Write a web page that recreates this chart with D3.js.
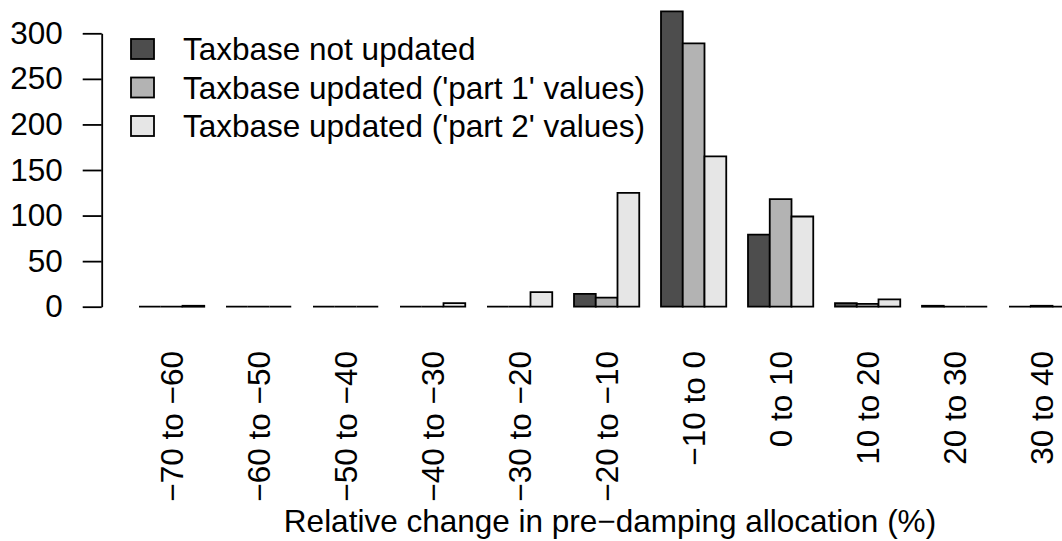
<!DOCTYPE html>
<html>
<head>
<meta charset="utf-8">
<script src="https://cdn.jsdelivr.net/npm/d3@7"></script>
<style>
  body { margin: 0; background: #fff; }
  svg { display: block; font-family: "Liberation Sans", Arial, sans-serif; }
</style>
</head>
<body>
<svg id="chart" width="1062" height="541"></svg>
<script>
// bins of relative change
const categories = ['\u221270 to \u221260', '\u221260 to \u221250', '\u221250 to \u221240', '\u221240 to \u221230',
  '\u221230 to \u221220', '\u221220 to \u221210', '\u221210 to 0', '0 to 10', '10 to 20', '20 to 30', '30 to 40'];
const seriesNames = ['Taxbase not updated', "Taxbase updated ('part 1' values)", "Taxbase updated ('part 2' values)"];
const notUpdated = [0, 0, 0, 0, 0, 14, 324, 79, 4, 1, 0];
const part1 = [0, 0, 0, 0, 0, 10, 289, 118, 3, 0, 1];
const part2 = [1, 0, 0, 4, 16, 125, 165, 99, 8, 0, 0];
const yTicks = [0, 50, 100, 150, 200, 250, 300];
const colors = ['#4d4d4d', '#b3b3b3', '#e6e6e6'];

const series = [notUpdated, part1, part2];
const rows = categories.map((c, i) => ({cat: c, vals: series.map((s, j) => ({key: seriesNames[j], v: s[i], j: j}))}));

const svg = d3.select('#chart');
const fs = 31.5;

const y = d3.scaleLinear().domain([0, 300]).range([306.7, 33.3]);
const x0 = d3.scaleBand().domain(categories).range([117.25, 1096])
             .paddingInner(0.25).paddingOuter(0.25);
const x1 = d3.scaleBand().domain(seriesNames).range([0, x0.bandwidth()]);

// bars as closed paths so that zero bars still show as a flat line (like R)
const barPath = function(d){
  const p = d3.path(), xl = x1(d.key), w = x1.bandwidth();
  p.moveTo(xl, y(0)); p.lineTo(xl, y(d.v)); p.lineTo(xl + w, y(d.v)); p.lineTo(xl + w, y(0)); p.closePath();
  return p.toString();
};
const g = svg.append('g');
g.selectAll('g.grp').data(rows).enter().append('g')
 .attr('class', 'grp')
 .attr('transform', d => `translate(${x0(d.cat)},0)`)
 .selectAll('path').data(d => d.vals).enter().append('path')
 .attr('d', barPath)
 .attr('fill', d => colors[d.j])
 .attr('stroke', '#000').attr('stroke-width', 1.8);

// y axis
const yAxis = svg.append('g')
  .attr('transform', 'translate(101.7,0)')
  .call(d3.axisLeft(y).tickValues(yTicks).tickSize(19).tickSizeOuter(0).tickPadding(20));
yAxis.selectAll('path, line').attr('stroke', '#000').attr('stroke-width', 1.8);
yAxis.selectAll('text').attr('font-size', fs).attr('fill', '#000')
     .attr('font-family', '"Liberation Sans", Arial, sans-serif');

// category labels (rotated)
svg.append('g').selectAll('text').data(categories).enter().append('text')
   .attr('transform', d => `translate(${x0(d) + x0.bandwidth() / 2},351) rotate(-90)`)
   .attr('text-anchor', 'end')
   .attr('dy', '0.35em')
   .attr('font-size', fs)
   .text(d => d);

// axis title
svg.append('text')
   .attr('x', 610).attr('y', 532)
   .attr('text-anchor', 'middle')
   .attr('font-size', fs)
   .text('Relative change in pre\u2212damping allocation (%)');

// legend
const leg = svg.append('g').selectAll('g').data(seriesNames).enter().append('g')
   .attr('transform', (d, i) => `translate(131,${39 + i * 38.5})`);
leg.append('rect')
   .attr('width', 23).attr('height', 20)
   .attr('fill', (d, i) => colors[i])
   .attr('stroke', '#000').attr('stroke-width', 1.8);
leg.append('text')
   .attr('x', 52).attr('y', 10).attr('dy', '0.35em')
   .attr('font-size', fs)
   .text(d => d);
</script>
</body>
</html>
